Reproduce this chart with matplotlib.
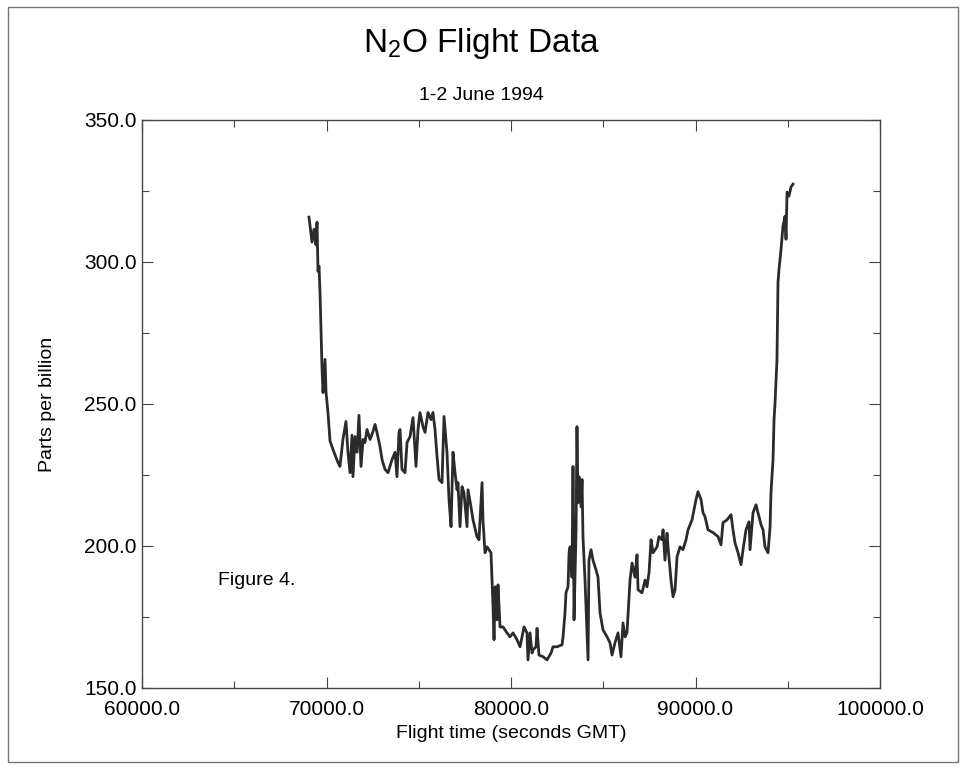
import matplotlib
matplotlib.use("Agg")
import matplotlib.pyplot as plt
from matplotlib.ticker import MultipleLocator, FormatStrFormatter
from matplotlib.patches import Rectangle

plt.rcParams['font.family'] = ['Liberation Sans', 'DejaVu Sans']
plt.rcParams['mathtext.fontset'] = 'custom'
plt.rcParams['mathtext.rm'] = 'Liberation Sans'

# flight time (s GMT) and N2O mixing ratio (ppb)
flight_time = [
    69050, 69215, 69320, 69430, 69485, 69540, 69595, 69650, 69700, 69755,
    69810, 69920, 69975, 70080, 70190, 70300, 70350, 70620, 70730, 70890,
    71055, 71165, 71275, 71380, 71435, 71545, 71655, 71760, 71870, 71980,
    72085, 72195, 72360, 72520, 72630, 72735, 72900, 73010, 73170, 73335,
    73550, 73715, 73820, 73930, 73985, 74090, 74255, 74365, 74525, 74690,
    74850, 74960, 75065, 75230, 75340, 75500, 75665, 75770, 75880, 75990,
    76100, 76260, 76370, 76530, 76640, 76750, 76855, 76965, 77075, 77125,
    77235, 77345, 77450, 77615, 77670, 77830, 77940, 78155, 78265, 78430,
    78480, 78590, 78700, 78915, 79025, 79080, 79135, 79240, 79295, 79405,
    79565, 79785, 79945, 80110, 80325, 80490, 80705, 80865, 80920, 81030,
    81140, 81190, 81355, 81410, 81515, 81735, 81950, 82170, 82275, 82495,
    82765, 82820, 82925, 82980, 83090, 83145, 83200, 83305, 83360, 83415,
    83525, 83575, 83630, 83685, 83795, 83850, 83900, 84010, 84175, 84225,
    84335, 84445, 84605, 84715, 84825, 84985, 85205, 85365, 85475, 85635,
    85800, 85960, 86070, 86180, 86285, 86450, 86560, 86720, 86830, 86885,
    87100, 87265, 87370, 87480, 87590, 87695, 87915, 88020, 88185, 88240,
    88345, 88455, 88510, 88670, 88780, 88890, 89000, 89160, 89320, 89485,
    89595, 89810, 89920, 90025, 90135, 90300, 90405, 90515, 90675, 90950,
    91220, 91380, 91490, 91705, 91925, 92030, 92140, 92305, 92465, 92575,
    92735, 92900, 92955, 93115, 93280, 93385, 93550, 93660, 93765, 93930,
    94040, 94090, 94200, 94255, 94310, 94415, 94470, 94525, 94635, 94740,
    94850, 94905, 94960, 95065, 95175, 95285,
]
n2o_ppb = [
    315.8, 307.0, 311.5, 306.0, 314.0, 296.7, 298.5, 289.0, 277.0, 263.0,
    254.0, 265.7, 254.0, 247.0, 237.0, 235.0, 234.0, 229.4, 228.0, 237.5,
    243.8, 232.9, 225.8, 239.0, 224.4, 238.5, 233.0, 246.0, 228.0, 237.5,
    236.4, 241.0, 237.5, 240.3, 242.8, 240.0, 235.0, 230.4, 227.0, 225.8,
    230.4, 233.0, 224.4, 240.0, 241.0, 227.0, 225.8, 236.4, 238.5, 245.2,
    228.0, 241.0, 247.0, 242.0, 240.0, 247.0, 244.5, 247.0, 241.0, 231.5,
    223.4, 222.3, 245.6, 233.0, 216.3, 206.8, 233.0, 225.8, 219.8, 222.3,
    206.8, 220.9, 218.8, 206.8, 219.8, 213.8, 209.2, 203.3, 202.2, 222.3,
    209.2, 197.6, 199.7, 197.6, 178.6, 167.0, 185.6, 174.0, 186.3, 171.5,
    171.5, 169.4, 168.0, 169.4, 167.0, 164.5, 171.5, 169.4, 159.9, 169.4,
    162.3, 163.4, 164.5, 171.0, 161.6, 161.0, 159.9, 162.3, 164.5, 164.5,
    165.2, 168.0, 176.4, 183.5, 185.6, 197.6, 199.7, 189.0, 228.0, 174.0,
    205.7, 242.0, 215.2, 224.4, 213.8, 223.4, 203.3, 188.0, 159.9, 195.0,
    198.7, 195.0, 191.6, 189.0, 176.4, 170.5, 168.0, 165.9, 161.6, 165.9,
    169.4, 161.0, 172.9, 168.0, 169.4, 188.0, 194.0, 189.0, 196.9, 184.6,
    183.5, 188.0, 185.6, 190.6, 202.2, 197.6, 199.7, 203.3, 202.2, 205.7,
    195.0, 204.5, 199.7, 188.0, 182.1, 184.6, 196.2, 199.7, 198.7, 202.2,
    205.7, 209.2, 212.8, 216.3, 219.1, 216.3, 211.7, 210.3, 205.7, 204.7,
    203.3, 200.4, 208.2, 209.2, 211.0, 205.7, 201.1, 197.6, 193.4, 198.7,
    205.7, 208.5, 198.7, 211.7, 214.5, 211.7, 207.5, 205.7, 199.7, 197.6,
    206.8, 218.8, 230.4, 244.5, 250.5, 265.7, 292.8, 297.4, 304.5, 312.6,
    316.1, 308.0, 324.6, 323.2, 326.4, 327.4,
]

fig = plt.figure(figsize=(9.62, 7.68), dpi=100)
ax = fig.add_axes([0.1476, 0.1042, 0.7672, 0.7396])

ax.plot(flight_time, n2o_ppb, color='#2b2b2b', lw=2.0)

ax.set_xlim(60000, 100000)
ax.set_ylim(150, 350)
ax.xaxis.set_major_locator(MultipleLocator(10000))
ax.xaxis.set_minor_locator(MultipleLocator(5000))
ax.yaxis.set_major_locator(MultipleLocator(50))
ax.yaxis.set_minor_locator(MultipleLocator(25))
ax.xaxis.set_major_formatter(FormatStrFormatter('%.1f'))
ax.yaxis.set_major_formatter(FormatStrFormatter('%.1f'))
ax.tick_params(which='both', direction='in', top=True, right=True,
               color='#444444', width=0.8)
ax.tick_params(which='major', length=8, labelsize=15)
ax.tick_params(which='minor', length=5)
ax.tick_params(axis='x', pad=9)
ax.tick_params(axis='y', pad=4)
for s in ax.spines.values():
    s.set_linewidth(1.0)
    s.set_color('#444444')

ax.set_xlabel('Flight time (seconds GMT)', fontsize=14, labelpad=4)
ax.set_ylabel('Parts per billion', fontsize=14, labelpad=20)

fig.text(0.5, 0.943, r'N$_\mathregular{2}$O Flight Data', ha='center', va='center',
         fontsize=24)
fig.text(0.5, 0.875, '1-2 June 1994', ha='center', va='center', fontsize=14)
ax.text(64100, 188, 'Figure 4.', ha='left', va='center', fontsize=14)

fig.patches.append(Rectangle((0.0083, 0.0078), 0.9875, 0.983,
                             transform=fig.transFigure, fill=False,
                             edgecolor='#777777', lw=1.0))

fig.savefig('out.png', dpi=100)
